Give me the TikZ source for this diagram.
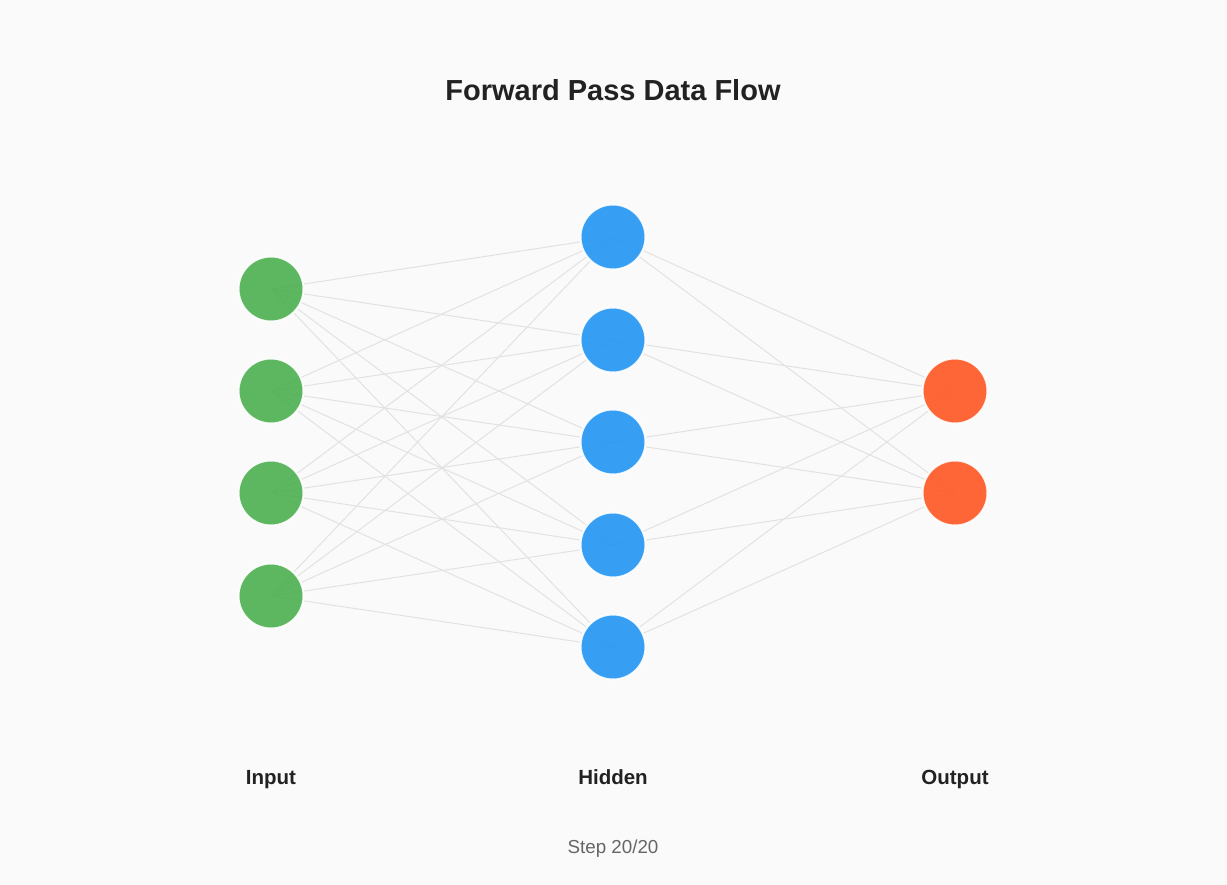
\documentclass[tikz,border=0pt]{standalone}
\usepackage{fontspec}
\setmainfont{Liberation Sans}
\definecolor{bgc}{HTML}{FAFAFA}
\definecolor{inc}{HTML}{4CAF50}
\definecolor{hic}{HTML}{2196F3}
\definecolor{ouc}{HTML}{FF5722}
\definecolor{edgec}{HTML}{E2E2E2}
\definecolor{titc}{HTML}{222222}
\definecolor{stepc}{HTML}{666666}
\begin{document}
\begin{tikzpicture}[x=1pt,y=-1pt,
  neuron/.style={circle,minimum size=65pt,inner sep=0pt,draw=white,line width=2pt,fill opacity=0.9,draw opacity=0.9},
  innode/.style={neuron,fill=inc},
  hidnode/.style={neuron,fill=hic},
  outnode/.style={neuron,fill=ouc},
  conn/.style={draw=edgec,line width=1pt},
  layerlabel/.style={font=\bfseries\fontsize{20.5}{24}\selectfont,text=titc,text height=14pt,text depth=4pt,inner sep=0pt},
]
\fill[bgc] (0,0) rectangle (1227,885);
\useasboundingbox (0,0) rectangle (1227,885);
\node[font=\bfseries\fontsize{29}{34}\selectfont,text=titc] (title) at (613,90) {Forward Pass Data Flow};
% coordinates
\foreach \i/\y in {1/289,2/391,3/493,4/596} {\coordinate (ic\i) at (271,\y);}
\foreach \i/\y in {1/237,2/340,3/442,4/545,5/647} {\coordinate (hc\i) at (613,\y);}
\foreach \i/\y in {1/391,2/493} {\coordinate (oc\i) at (955,\y);}
% connections
\foreach \i in {1,...,4} {\foreach \j in {1,...,5} {\draw[conn] (ic\i) -- (hc\j);}}
\foreach \j in {1,...,5} {\foreach \k in {1,2} {\draw[conn] (hc\j) -- (oc\k);}}
% nodes
\foreach \i in {1,...,4} {\node[innode] (i\i) at (ic\i) {};}
\foreach \j in {1,...,5} {\node[hidnode] (h\j) at (hc\j) {};}
\foreach \k in {1,2} {\node[outnode] (o\k) at (oc\k) {};}
% labels
\node[layerlabel] (linput) at (271,779) {Input};
\node[layerlabel] (lhidden) at (613,779) {Hidden};
\node[layerlabel] (loutput) at (955,779) {Output};
\node[font=\fontsize{18.8}{22}\selectfont,text=stepc] (step) at (613,849) {Step 20/20};
\end{tikzpicture}
\end{document}
